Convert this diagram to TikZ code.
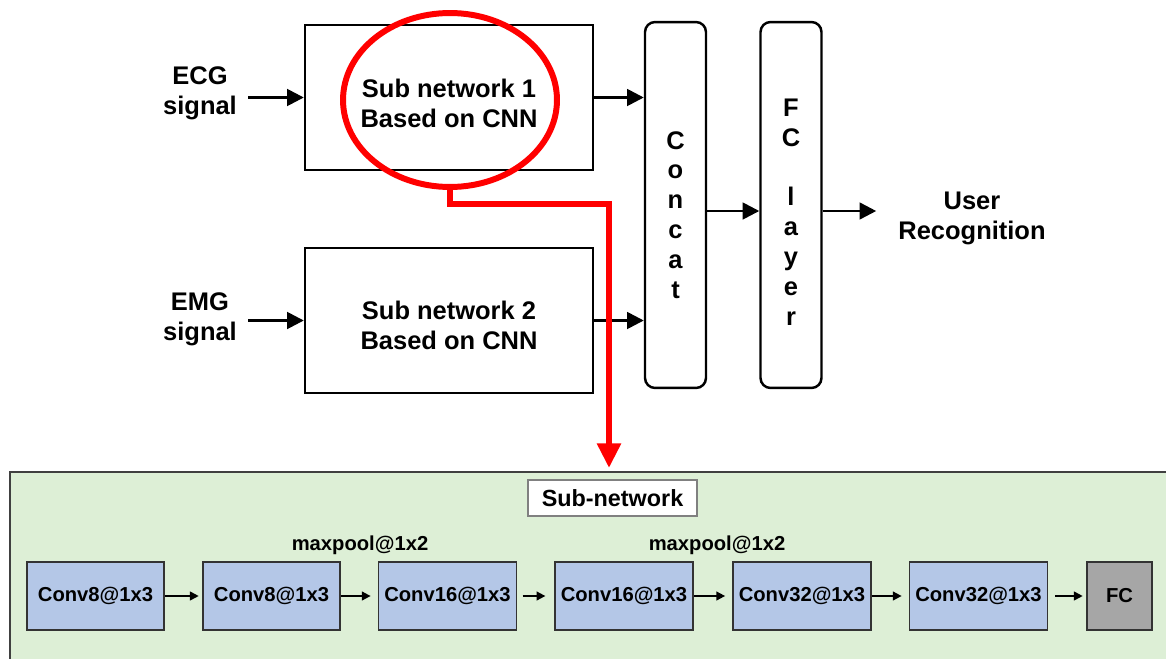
\documentclass[tikz,border=0pt]{standalone}
\usepackage{fontspec}
\setmainfont{Liberation Sans}
\usetikzlibrary{arrows.meta,shapes.geometric}

\definecolor{panelgreen}{HTML}{DDEFD6}
\definecolor{panelrim}{HTML}{404040}
\definecolor{convblue}{HTML}{B4C7E7}
\definecolor{fcgray}{HTML}{A6A6A6}

\begin{document}
\begin{tikzpicture}[x=0.02cm, y=-0.02cm,
    every node/.style={font=\bfseries\fontsize{14.5}{17}\selectfont},
    netbox/.style={draw, line width=1.4pt, minimum width=5.76cm, minimum height=2.9cm},
    tallbox/.style={draw, line width=1.4pt, rounded corners=0.2cm, minimum width=1.22cm, minimum height=7.32cm},
    layerbox/.style={draw=black!80, line width=0.9pt, fill=convblue, minimum width=2.74cm, minimum height=1.36cm, font=\bfseries\fontsize{11.5}{14}\selectfont},
    bigarrow/.style={-{Triangle[length=9.5pt,width=9.5pt]}, line width=1.5pt},
    smallarrow/.style={-{Triangle[length=5pt,width=5pt]}, line width=1pt}]

    % Page of the same size as the reference
    \useasboundingbox (0,0) rectangle (1166,659);
    \clip (0,0) rectangle (1166,659);

    % Upper part: two sub networks, concat and FC layer
    \node[align=center] (ecg) at (200,93) {ECG\\signal};
    \node[align=center] (emg) at (200,319) {EMG\\signal};

    \node[netbox, label={[align=center, yshift=-0.12cm]center:Sub network 1\\Based on CNN}] (sub1) at (449,97.5) {};
    \node[netbox, label={[align=center, yshift=-0.1cm]center:Sub network 2\\Based on CNN}] (sub2) at (449,320.5) {};

    \node[tallbox, label={[align=center, yshift=-0.2cm]center:C\\o\\n\\c\\a\\t}] (concat) at (675.5,205) {};
    \node[tallbox, label={[align=center, yshift=-0.14cm]center:F\\C\\[17pt]l\\a\\y\\e\\r}] (fclayer) at (791,205) {};

    \node[align=center] (out) at (972,218) {User\\Recognition};
    \coordinate (mid) at (0,211);

    \draw[bigarrow, shorten <=3pt] (ecg.east |- sub1.west) -- (sub1.west);
    \draw[bigarrow, shorten <=3pt] (emg.east |- sub2.west) -- (sub2.west);
    \draw[bigarrow] (sub1.east) -- (sub1.east -| concat.west);
    \draw[bigarrow] (sub2.east) -- (sub2.east -| concat.west);
    \draw[bigarrow] (concat.east |- mid) -- (fclayer.west |- mid);
    \draw[bigarrow, shorten >=0.32cm] (fclayer.east |- mid) -- (out.west |- mid);

    % Lower part: the sub-network in detail
    \draw[line width=1pt, draw=panelrim, fill=panelgreen] (10,472) rectangle (1180,680);
    \node[draw=gray, fill=white, line width=0.6pt, minimum width=3.38cm, minimum height=0.72cm,
          font=\bfseries\fontsize{13.3}{16}\selectfont] (title) at (612.5,498) {Sub-network};

    \node[layerbox] (c1) at (95.5,596) {Conv8@1x3};
    \node[layerbox] (c2) at (271.5,596) {Conv8@1x3};
    \node[layerbox] (c3) at (447.5,596) {Conv16@1x3};
    \node[layerbox] (c4) at (624,596) {Conv16@1x3};
    \node[layerbox] (c5) at (802,596) {Conv32@1x3};
    \node[layerbox] (c6) at (978.5,596) {Conv32@1x3};
    \node[layerbox, fill=fcgray, minimum width=1.3cm] (fc) at (1119.5,596) {FC};

    \node[font=\bfseries\fontsize{11.5}{14}\selectfont] (pool1) at (360,545) {maxpool@1x2};
    \node[font=\bfseries\fontsize{11.5}{14}\selectfont] (pool2) at (717,545) {maxpool@1x2};

    \draw[smallarrow, shorten >=2pt] (c1) -- (c2);
    \draw[smallarrow, shorten >=4pt] (c2) -- (c3);
    \draw[smallarrow, shorten <=3pt, shorten >=5pt] (c3) -- (c4);
    \draw[smallarrow, shorten >=4pt] (c4) -- (c5);
    \draw[smallarrow, shorten >=4pt] (c5) -- (c6);
    \draw[smallarrow, shorten <=4pt, shorten >=2pt] (c6) -- (fc);

    % Red mark from sub network 1 down to the detail
    \node[draw=red, ellipse, line width=3.4pt, inner sep=0pt, minimum width=4.28cm, minimum height=3.48cm] (ring) at (450,100) {};
    \coordinate (tip) at (609,468);
    \draw[red, line width=3.4pt, -{Triangle[length=14pt,width=13pt]}] (ring.south) -- ++(0,14) -| (tip);

\end{tikzpicture}
\end{document}
